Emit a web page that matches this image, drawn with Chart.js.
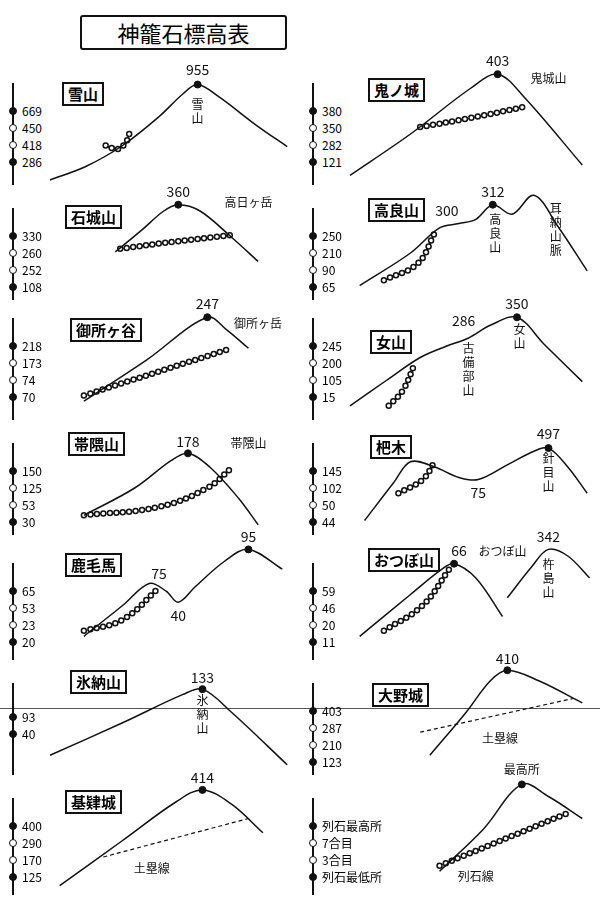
<!DOCTYPE html>
<html><head><meta charset="utf-8">
<script src="https://cdn.jsdelivr.net/npm/chart.js@4/dist/chart.umd.min.js"></script>
<style>
body{margin:0;background:#fff;font-family:"Noto Sans CJK JP",sans-serif;}
#wrap{position:relative;width:600px;height:900px;overflow:hidden;}
.box{position:absolute;border:2px solid #111;font-size:15px;font-weight:bold;line-height:20px;padding:0 4px;background:#fff;}
.tk{position:absolute;font-size:12px;line-height:14px;}
.ax{position:absolute;width:2px;background:#111;}
.mk{position:absolute;width:6px;height:6px;border-radius:50%;border:1.5px solid #111;background:#fff;}
.mk.f{background:#111;}
canvas{position:absolute;}
</style></head><body><div id="wrap"></div>
<script>
// panels: left column 0-6, right column 7-13
var names = ["雪山","石城山","御所ヶ谷","帯隈山","鹿毛馬","氷納山","基肄城",
             "鬼ノ城","高良山","女山","杷木","おつぼ山","大野城",null];
var ticks = [["669","450","418","286"],["330","260","252","108"],["218","173","74","70"],
             ["150","125","53","30"],["65","53","23","20"],["93","40"],["400","290","170","125"],
             ["380","350","282","121"],["250","210","90","65"],["245","200","105","15"],
             ["145","102","50","44"],["59","46","20","11"],["403","287","210","123"],
             ["列石最高所","7合目","3合目","列石最低所"]];
var profiles = [
  [[0,0],[15,12],[30,30],[45,55],[55,75],[61,83],[70,72],[85,48],[98,29]],
  [[27,41],[38,62],[47,80],[53,86],[62,80],[75,55],[86,32]],
  [[14,12],[40,48],[65,85],[73,74],[82,58]],
  [[14,14],[35,40],[50,66],[57,73],[66,60],[78,30],[86,5]],
  [[14,17],[30,45],[41,65],[48,58],[53,48],[60,62],[72,85],[82,96],[96,78]],
  [[0,14],[30,45],[55,72],[63,77],[75,55],[98,5]],
  [[4,4],[30,45],[52,80],[63,91],[75,78],[88,52]],
  [[0,4],[25,40],[50,80],[61,92],[72,72],[96,13]],
  [[4,9],[25,40],[37,64],[45,68],[52,72],[59,86],[67,77],[76,95],[86,65],[98,23]],
  [[0,8],[15,30],[29,50],[40,60],[49,67],[58,78],[69,85],[80,62],[96,29]],
  [[6,9],[18,45],[25,65],[35,60],[45,50],[53,48],[65,62],[76,75],[82,78],[90,60],[98,35]],
  [[4,17],[25,55],[38,78],[43,83],[52,70],[63,35],[null,null],[65,52],[75,80],[82,96],[90,90],[99,70]],
  [[33,14],[48,55],[58,85],[65,95],[78,85],[96,64]],
  [[37,17],[55,55],[71,96],[82,85],[96,65]]
];
var peaks = [[61,83],[53,86],[65,85],[57,73],[82,96],[63,77],[63,91],
             [61,92],[59,86],[69,85],[82,78],[43,83],[65,95],[71,96]];
var rows = [
  [[23,30],[28,27],[32,35],[33,44]],
  [[29,44],[52,51],[75,57]],
  [[14,17],[75,58]],
  [[14,14],[45,22],[65,40],[75,59]],
  [[14,22],[30,32],[45,61]],
  null,
  [[22,30],[82,65]],
  [[29,46],[50,54],[73,64]],
  [[14,14],[28,30],[35,59]],
  [[16,8],[22,22],[27,46]],
  [[20,35],[30,48],[35,65]],
  [[14,22],[30,45],[41,78]],
  [[29,36],[92,68]],
  [[37,22],[90,70]]
];
var dashedRows = [6,12];
var notes = [
  [["955",61,96,0],["雪山",61,66,1]],
  [["360",53,98,0],["高日ヶ岳",82,88,0]],
  [["247",65,97,0],["御所ヶ岳",86,80,0]],
  [["178",57,84,0],["帯隈山",82,82,0]],
  [["75",45,74,0],["40",53,36,0],["95",82,108,0]],
  [["133",63,88,0],["氷納山",63,66,1]],
  [["414",63,102,0],["土塁線",42,20,0]],
  [["403",61,104,0],["鬼城山",82,88,0]],
  [["300",40,80,0],["312",59,98,0],["高良山",60,72,1],["耳納山脈",85,82,1]],
  [["286",47,82,0],["350",69,97,0],["古備部山",49,58,1],["女山",70,74,1]],
  [["497",82,92,0],["75",53,36,0],["針目山",82,68,1]],
  [["66",45,95,0],["おつぼ山",63,94,0],["342",82,108,0],["杵島山",82,82,1]],
  [["410",65,106,0],["土塁線",62,30,0]],
  [["最高所",71,110,0],["列石線",52,12,0]]
];

var rowTops = [65,190,300,425,545,665,780], rowHeights = [120,110,120,110,115,110,115];
var boxes = [[62,82],[65,205],[70,318],[68,432],[65,553],[70,670],[65,790],
             [368,78],[368,198],[370,330],[370,435],[368,548],[372,683]];
var PADT = 20;
var wrap = document.getElementById('wrap');
function el(cls, css, txt){var d=document.createElement('div');d.className=cls;d.style.cssText=css;if(txt)d.textContent=txt;wrap.appendChild(d);return d;}

// title
el('box','left:80px;top:15px;width:195px;height:31px;font-size:22px;line-height:31px;text-align:center;font-weight:normal;border-radius:3px;','神籠石標高表');
el('ax','left:0;top:708px;width:600px;height:1px;background:#555;');

var notePlugin = {
  id:'notes',
  afterDatasetsDraw: function(chart){
    var c = chart.ctx, xs = chart.scales.x, ys = chart.scales.y;
    c.save(); c.fillStyle='#111'; c.textAlign='center'; c.textBaseline='middle';
    chart.options.plugins.notes.list.forEach(function(n){
      var px = xs.getPixelForValue(n[1]), py = ys.getPixelForValue(n[2]);
      var num = /^[0-9]+$/.test(n[0]);
      c.font = (num ? '14px' : '12px') + ' "Noto Sans CJK JP"';
      if(n[3]){ for(var i=0;i<n[0].length;i++) c.fillText(n[0][i], px, py + i*14); }
      else c.fillText(n[0], px, py);
    });
    c.restore();
  }
};

function toXY(a){return a.map(function(q){return {x:q[0],y:q[1]};});}

function panel(p){
  var col = p<7?0:1, r = p%7;
  var px0 = col?345:45, py0 = rowTops[r], h = rowHeights[r], w = 252;
  var ax = col?312:12;
  el('ax','left:'+ax+'px;top:'+(py0+18)+'px;height:'+(h-18)+'px;');
  var n = ticks[p].length, t0 = py0 + (n==2?52:46);
  ticks[p].forEach(function(s,i){
    var y = t0 + i*17;
    el('mk'+((i==0||i==n-1)?' f':''),'left:'+(ax-3.5)+'px;top:'+(y-4)+'px;');
    el('tk','left:'+(ax+10)+'px;top:'+(y-7)+'px;',s);
  });

  if(names[p]) el('box','left:'+boxes[p][0]+'px;top:'+boxes[p][1]+'px;',names[p]);
  var cv = document.createElement('canvas');
  cv.width = w; cv.height = h + PADT; cv.style.left = px0+'px'; cv.style.top = (py0-PADT)+'px';
  wrap.appendChild(cv);
  var ds = [{data:toXY(profiles[p]),borderColor:'#111',borderWidth:1.5,pointRadius:0,tension:0.35,spanGaps:false}];
  ds.push({data:toXY([peaks[p]]),pointRadius:3.5,pointBackgroundColor:'#111',pointBorderColor:'#111',showLine:false});
  if(rows[p]){
    if(dashedRows.indexOf(p)>=0){
      ds.push({data:toXY(rows[p]),borderColor:'#111',borderWidth:1.2,borderDash:[4,3],pointRadius:0});
    } else {
      ds.push({data:toXY(rows[p]),borderColor:'#fff',borderWidth:3.5,borderDash:[0,6.5],borderCapStyle:'round',pointRadius:0,tension:0.4});
      ds.push({data:toXY(rows[p]),borderColor:'#111',borderWidth:6.5,borderDash:[0,6.5],borderCapStyle:'round',pointRadius:0,tension:0.4});
    }
  }
  new Chart(cv,{type:'line',data:{datasets:ds},
    options:{responsive:false,animation:false,clip:false,
      layout:{padding:{top:PADT}},
      scales:{x:{type:'linear',min:0,max:100,display:false},y:{min:0,max:100,display:false}},
      plugins:{legend:{display:false},tooltip:{enabled:false},notes:{list:notes[p]}}},
    plugins:[notePlugin]});
}
for(var p=0;p<14;p++) panel(p);
</script></body></html>
